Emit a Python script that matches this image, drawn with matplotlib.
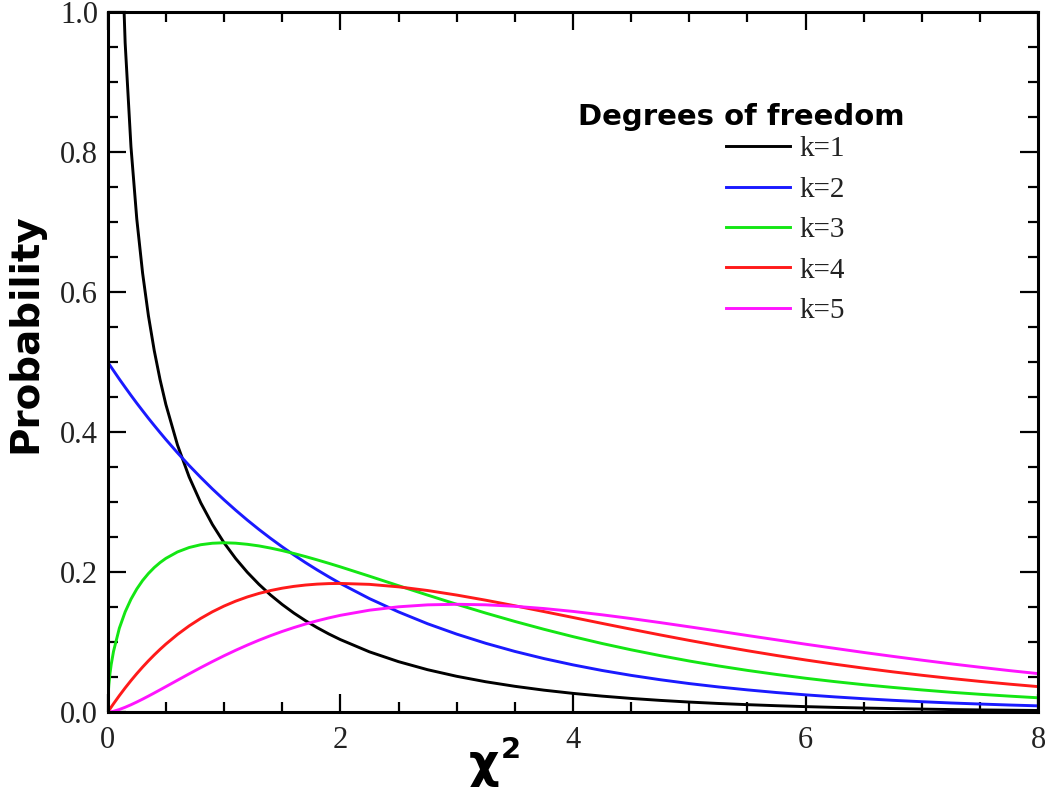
import matplotlib
matplotlib.use("Agg")
import matplotlib.pyplot as plt
import numpy as np
from matplotlib.ticker import MultipleLocator

# x positions at which values were read
x = [0, 0.005, 0.01, 0.02, 0.03, 0.05, 0.1, 0.15, 0.2, 0.25, 0.3, 0.35, 0.4, 0.45,
     0.5, 0.6, 0.7, 0.8, 0.9, 1.0, 1.1, 1.2, 1.3, 1.4, 1.5, 1.6, 1.7, 1.8, 1.9,
     2.0, 2.25, 2.5, 2.75, 3.0, 3.25, 3.5, 3.75, 4.0, 4.25, 4.5, 4.75, 5.0, 5.25,
     5.5, 5.75, 6.0, 6.25, 6.5, 6.75, 7.0, 7.25, 7.5, 7.75, 8.0]

k1 = [np.nan, 5.628, 3.9695, 2.793, 2.269, 1.740, 1.200, 0.9556, 0.8072, 0.7041,
      0.6269, 0.5661, 0.5164, 0.4749, 0.4394, 0.3815, 0.3360, 0.2990, 0.2681,
      0.2420, 0.2195, 0.1999, 0.1827, 0.1674, 0.1539, 0.1417, 0.1308, 0.1209,
      0.1119, 0.1038, 0.0863, 0.0723, 0.0608, 0.0514, 0.0436, 0.0371, 0.0316,
      0.0270, 0.0231, 0.0198, 0.0170, 0.0146, 0.0126, 0.0109, 0.0094, 0.0081,
      0.0070, 0.0061, 0.0053, 0.0046, 0.0039, 0.0034, 0.0030, 0.0026]
k2 = [0.5, 0.4988, 0.4975, 0.4950, 0.4926, 0.4877, 0.4756, 0.4639, 0.4524, 0.4412,
      0.4304, 0.4197, 0.4094, 0.3993, 0.3894, 0.3704, 0.3523, 0.3352, 0.3188,
      0.3033, 0.2885, 0.2744, 0.2610, 0.2483, 0.2362, 0.2247, 0.2137, 0.2033,
      0.1934, 0.1839, 0.1623, 0.1433, 0.1264, 0.1116, 0.0985, 0.0869, 0.0767,
      0.0677, 0.0597, 0.0527, 0.0465, 0.0410, 0.0362, 0.0320, 0.0282, 0.0249,
      0.0220, 0.0194, 0.0171, 0.0151, 0.0133, 0.0118, 0.0104, 0.0092]
k3 = [0.0, 0.0281, 0.0397, 0.0559, 0.0681, 0.0870, 0.1200, 0.1433, 0.1614, 0.1760,
      0.1881, 0.1981, 0.2066, 0.2137, 0.2197, 0.2289, 0.2352, 0.2392, 0.2413,
      0.2420, 0.2414, 0.2398, 0.2375, 0.2344, 0.2308, 0.2267, 0.2223, 0.2176,
      0.2127, 0.2076, 0.1943, 0.1807, 0.1673, 0.1542, 0.1416, 0.1297, 0.1185,
      0.1080, 0.0982, 0.0892, 0.0809, 0.0732, 0.0662, 0.0598, 0.0540, 0.0486,
      0.0438, 0.0394, 0.0355, 0.0319, 0.0286, 0.0257, 0.0231, 0.0207]
k4 = [0.0, 0.00125, 0.00249, 0.00495, 0.00739, 0.01219, 0.02378, 0.03479, 0.04524,
      0.05516, 0.06455, 0.07345, 0.08187, 0.08983, 0.09735, 0.11112, 0.12332,
      0.13406, 0.14347, 0.15163, 0.15866, 0.16464, 0.16967, 0.17381, 0.17714,
      0.17973, 0.18165, 0.18296, 0.18370, 0.18394, 0.18262, 0.17906, 0.17383,
      0.16735, 0.15999, 0.15205, 0.14377, 0.13534, 0.12690, 0.11858, 0.11045,
      0.10261, 0.09508, 0.08790, 0.08110, 0.07468, 0.06865, 0.06301, 0.05774,
      0.05284, 0.04830, 0.04410, 0.04021, 0.03663]
k5 = [0.0, 0.00005, 0.00013, 0.00037, 0.00068, 0.00145, 0.0040, 0.00717, 0.01076,
      0.01467, 0.01881, 0.02312, 0.02755, 0.03206, 0.03662, 0.04578, 0.05488,
      0.06379, 0.07240, 0.08066, 0.08851, 0.09592, 0.10290, 0.10939, 0.11540,
      0.12091, 0.12598, 0.13056, 0.13469, 0.13840, 0.14573, 0.15058, 0.15336,
      0.1542, 0.15342, 0.15132, 0.1481, 0.1440, 0.13916, 0.1338, 0.12804, 0.1220,
      0.11589, 0.1096, 0.10344, 0.0972, 0.09129, 0.0854, 0.07981, 0.0744, 0.06919,
      0.0643, 0.05955, 0.0552]

series = [k1, k2, k3, k4, k5]
labels = ["k=1", "k=2", "k=3", "k=4", "k=5"]
colors = ["#000000", "#1a1aff", "#14e614", "#ff1a1a", "#ff14ff"]

xticks = [0, 2, 4, 6, 8]
yticks = [0.0, 0.2, 0.4, 0.6, 0.8, 1.0]

W, H = 1045, 787
fig = plt.figure(figsize=(W / 100, H / 100), dpi=100)
ax = fig.add_axes([107.7 / W, 1 - 712.3 / H, 930.6 / W, 700.6 / H])

for ys, lab, c in zip(series, labels, colors):
    ax.plot(x, ys, color=c, lw=2.1, label=lab)

ax.set_xlim(0, 8)
ax.set_ylim(0, 1.0)
ax.set_xticks(xticks)
ax.set_yticks(yticks)
ax.set_xticklabels([str(t) for t in xticks])
ax.set_yticklabels([f"{t:.1f}" for t in yticks])
ax.xaxis.set_minor_locator(MultipleLocator(0.5))
ax.yaxis.set_minor_locator(MultipleLocator(0.05))
ax.tick_params(which="both", direction="in", top=True, right=True, width=1.6,
               color="black")
ax.tick_params(which="major", length=13)
ax.tick_params(which="minor", length=7)
ax.tick_params(axis="x", which="major", pad=10)
ax.tick_params(axis="y", which="major", pad=7)
for lab in ax.get_xticklabels() + ax.get_yticklabels():
    lab.set_fontfamily("Liberation Serif")
    lab.set_fontsize(22)
    lab.set_color("#222222")
for sp in ax.spines.values():
    sp.set_linewidth(2.2)

# axis labels
ax.set_ylabel("Probability", fontfamily="DejaVu Sans", fontweight="bold",
              fontsize=28)
ax.yaxis.set_label_coords(-0.068, 0.541)
fig.text(484 / W, 1 - 777 / H, "χ", fontfamily="DejaVu Sans", fontweight="bold",
         fontsize=34, ha="center", va="baseline")
fig.text(501 / W, 1 - 758 / H, "2", fontfamily="DejaVu Sans", fontweight="bold",
         fontsize=21, ha="left", va="baseline")

# legend
fig.text(578 / W, 1 - 125 / H, "Degrees of freedom", fontfamily="DejaVu Sans",
         fontweight="bold", fontsize=21, ha="left", va="baseline")
leg = ax.legend(loc="upper left", bbox_to_anchor=(726 / W, 1 - 136 / H),
                bbox_transform=fig.transFigure, frameon=False, borderpad=0,
                borderaxespad=0, handlelength=2.2, handletextpad=0.31,
                labelspacing=0.48,
                prop={"family": "Liberation Serif", "size": 21})
for t in leg.get_texts():
    t.set_color("#222222")

fig.savefig("out.png", dpi=100)
